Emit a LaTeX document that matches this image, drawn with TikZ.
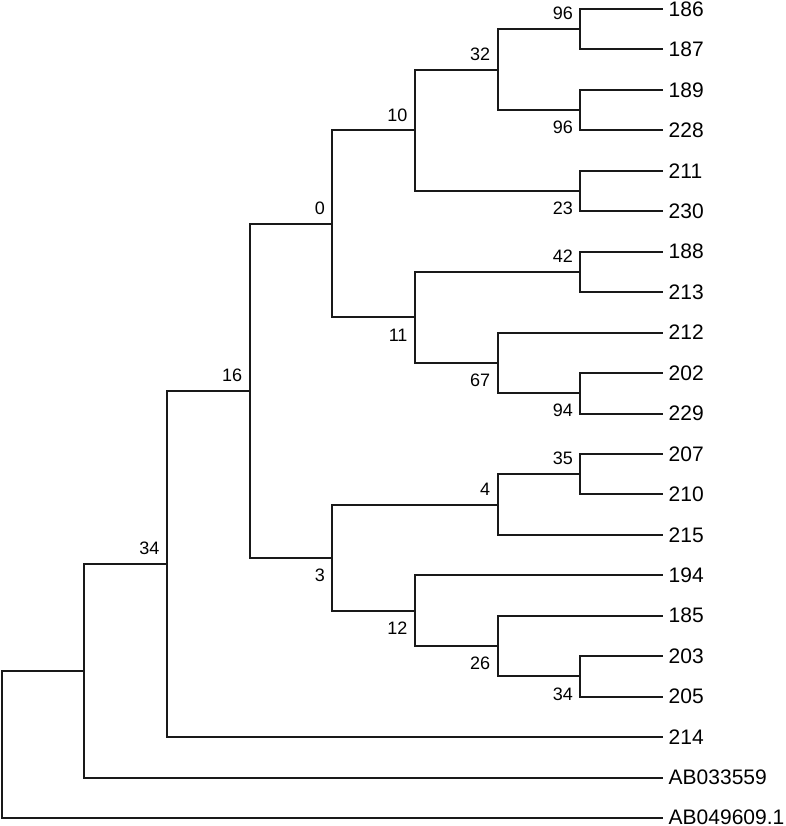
\documentclass[tikz,border=0pt]{standalone}
\usepackage{fontspec}
\setmainfont{Liberation Sans}
\begin{document}
\begin{tikzpicture}[x=1pt,y=-1pt,
  br/.style={line width=2pt, color=black!90},
  leaf/.style={anchor=west, inner sep=0pt, font=\fontsize{21}{24}\selectfont},
  lab/.style={inner sep=0pt, anchor=east, font=\fontsize{18}{20}\selectfont},
  up/.style={lab, xshift=-7.3pt, yshift=15.5pt},
  dn/.style={lab, xshift=-7.3pt, yshift=-17.5pt}]
\useasboundingbox (0,1) rectangle (785,827);
% leaves
\node[leaf] (l186) at (668.5,10) {186};
\node[leaf] (l187) at (668.5,50.45) {187};
\node[leaf] (l189) at (668.5,90.9) {189};
\node[leaf] (l228) at (668.5,131.35) {228};
\node[leaf] (l211) at (668.5,171.8) {211};
\node[leaf] (l230) at (668.5,212.25) {230};
\node[leaf] (l188) at (668.5,252.7) {188};
\node[leaf] (l213) at (668.5,293.15) {213};
\node[leaf] (l212) at (668.5,333.6) {212};
\node[leaf] (l202) at (668.5,374.05) {202};
\node[leaf] (l229) at (668.5,414.5) {229};
\node[leaf] (l207) at (668.5,454.95) {207};
\node[leaf] (l210) at (668.5,495.4) {210};
\node[leaf] (l215) at (668.5,535.85) {215};
\node[leaf] (l194) at (668.5,576.3) {194};
\node[leaf] (l185) at (668.5,616.75) {185};
\node[leaf] (l203) at (668.5,657.2) {203};
\node[leaf] (l205) at (668.5,697.65) {205};
\node[leaf] (l214) at (668.5,738.1) {214};
\node[leaf] (lAa) at (668.5,778.55) {AB033559};
\node[leaf] (lAb) at (668.5,818.5) {AB049609.1};
% internal nodes
\coordinate (A) at (580.4,30.2);
\coordinate (B) at (580.4,111.1);
\coordinate (C) at (497.7,70.7);
\coordinate (D) at (580.4,192);
\coordinate (E) at (415,131.4);
\coordinate (F) at (580.4,272.9);
\coordinate (G) at (580.4,394.3);
\coordinate (H) at (497.7,364);
\coordinate (I) at (415,318.4);
\coordinate (J) at (332.4,224.9);
\coordinate (K) at (580.4,475.2);
\coordinate (L) at (497.7,505.5);
\coordinate (M) at (580.4,677.4);
\coordinate (N) at (497.7,647.1);
\coordinate (O) at (415,611.7);
\coordinate (P) at (332.4,558.6);
\coordinate (Q) at (249.7,391.8);
\coordinate (R) at (167,565);
\coordinate (S) at (84.4,671.8);
\coordinate (T) at (1.7,745.2);
% branches
\draw[br] (A) |- ([xshift=-5.5pt]l186.west);
\draw[br] (A) |- ([xshift=-5.5pt]l187.west);
\draw[br] (B) |- ([xshift=-5.5pt]l189.west);
\draw[br] (B) |- ([xshift=-5.5pt]l228.west);
\draw[br] (C) |- (A);
\draw[br] (C) |- (B);
\draw[br] (D) |- ([xshift=-5.5pt]l211.west);
\draw[br] (D) |- ([xshift=-5.5pt]l230.west);
\draw[br] (E) |- (C);
\draw[br] (E) |- (D);
\draw[br] (F) |- ([xshift=-5.5pt]l188.west);
\draw[br] (F) |- ([xshift=-5.5pt]l213.west);
\draw[br] (G) |- ([xshift=-5.5pt]l202.west);
\draw[br] (G) |- ([xshift=-5.5pt]l229.west);
\draw[br] (H) |- ([xshift=-5.5pt]l212.west);
\draw[br] (H) |- (G);
\draw[br] (I) |- (F);
\draw[br] (I) |- (H);
\draw[br] (J) |- (E);
\draw[br] (J) |- (I);
\draw[br] (K) |- ([xshift=-5.5pt]l207.west);
\draw[br] (K) |- ([xshift=-5.5pt]l210.west);
\draw[br] (L) |- (K);
\draw[br] (L) |- ([xshift=-5.5pt]l215.west);
\draw[br] (M) |- ([xshift=-5.5pt]l203.west);
\draw[br] (M) |- ([xshift=-5.5pt]l205.west);
\draw[br] (N) |- ([xshift=-5.5pt]l185.west);
\draw[br] (N) |- (M);
\draw[br] (O) |- ([xshift=-5.5pt]l194.west);
\draw[br] (O) |- (N);
\draw[br] (P) |- (L);
\draw[br] (P) |- (O);
\draw[br] (Q) |- (J);
\draw[br] (Q) |- (P);
\draw[br] (R) |- (Q);
\draw[br] (R) |- ([xshift=-5.5pt]l214.west);
\draw[br] (S) |- (R);
\draw[br] (S) |- ([xshift=-5.5pt]lAa.west);
\draw[br] (T) |- (S);
\draw[br] (T) |- ([xshift=-5.5pt]lAb.west);
% support labels
\node[up] (tA) at (A) {96};
\node[dn] (tB) at (B) {96};
\node[up] (tC) at (C) {32};
\node[dn] (tD) at (D) {23};
\node[up] (tE) at (E) {10};
\node[up] (tF) at (F) {42};
\node[dn] (tG) at (G) {94};
\node[dn] (tH) at (H) {67};
\node[dn] (tI) at (I) {11};
\node[up] (tJ) at (J) {0};
\node[up] (tK) at (K) {35};
\node[up] (tL) at (L) {4};
\node[dn] (tM) at (M) {34};
\node[dn] (tN) at (N) {26};
\node[dn] (tO) at (O) {12};
\node[dn] (tP) at (P) {3};
\node[up] (tQ) at (Q) {16};
\node[up] (tR) at (R) {34};
\end{tikzpicture}
\end{document}
